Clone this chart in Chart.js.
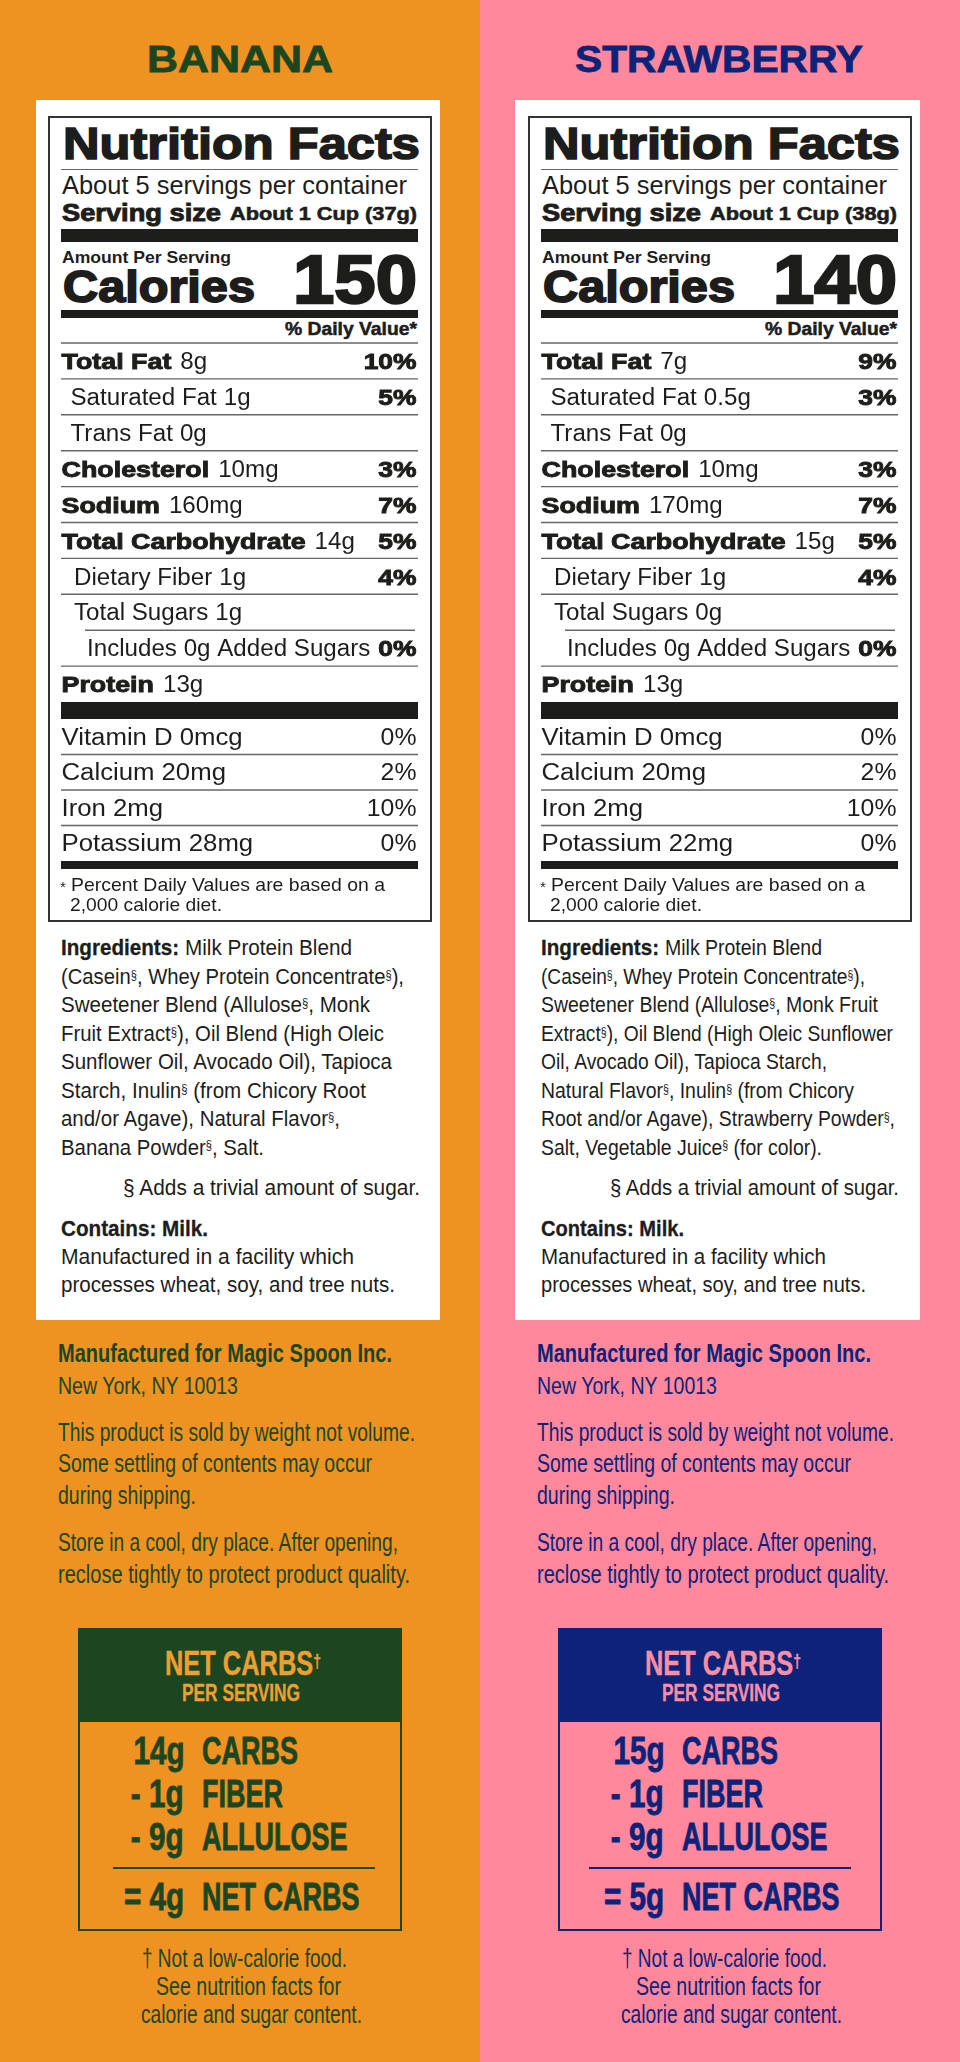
<!DOCTYPE html>
<html>
<head>
<meta charset="utf-8">
<title>Nutrition Facts</title>
<script src="https://cdn.jsdelivr.net/npm/chart.js@4/dist/chart.umd.min.js"></script>
<style>
html, body { margin: 0; padding: 0; background: #fff; }
#page { position: relative; width: 960px; height: 2062px; overflow: hidden; font-family: "Liberation Sans", sans-serif; }
.panel { position: absolute; top: 0; width: 480px; height: 2062px; overflow: hidden; }
.box { position: absolute; box-sizing: border-box; }
.t { position: absolute; line-height: 0; white-space: nowrap; }
.sup { font-size: .55em; position: relative; top: -.42em; }
canvas { position: absolute; }
</style>
</head>
<body>
<div id="page"></div>
<script>
// values, banana first then strawberry
const flavours = ['BANANA', 'STRAWBERRY']
const calories = [150, 140]
const servingGrams = [37, 38]

const rowNames = ['Total Fat', 'Saturated Fat', 'Trans Fat', 'Cholesterol', 'Sodium', 'Total Carbohydrate', 'Dietary Fiber', 'Total Sugars', 'Includes 0g Added Sugars', 'Protein']
const bananaAmounts = ['8g', '1g', '0g', '10mg', '160mg', '14g', '1g', '1g', '', '13g']
const strawberryAmounts = ['7g', '0.5g', '0g', '10mg', '170mg', '15g', '1g', '0g', '', '13g']
const bananaDaily = [10, 5, null, 3, 7, 5, 4, null, 0, null]
const strawberryDaily = [9, 3, null, 3, 7, 5, 4, null, 0, null]

const vitaminNames = ['Vitamin D', 'Calcium', 'Iron', 'Potassium']
const bananaVitaminAmounts = ['0mcg', '20mg', '2mg', '28mg']
const strawberryVitaminAmounts = ['0mcg', '20mg', '2mg', '22mg']
const bananaVitaminDaily = [0, 2, 10, 0]
const strawberryVitaminDaily = [0, 2, 10, 0]

const bananaIngredients = [
  'Milk Protein Blend',
  '(Casein§, Whey Protein Concentrate§),',
  'Sweetener Blend (Allulose§, Monk',
  'Fruit Extract§), Oil Blend (High Oleic',
  'Sunflower Oil, Avocado Oil), Tapioca',
  'Starch, Inulin§ (from Chicory Root',
  'and/or Agave), Natural Flavor§,',
  'Banana Powder§, Salt.'
]
const strawberryIngredients = [
  'Milk Protein Blend',
  '(Casein§, Whey Protein Concentrate§),',
  'Sweetener Blend (Allulose§, Monk Fruit',
  'Extract§), Oil Blend (High Oleic Sunflower',
  'Oil, Avocado Oil), Tapioca Starch,',
  'Natural Flavor§, Inulin§ (from Chicory',
  'Root and/or Agave), Strawberry Powder§,',
  'Salt, Vegetable Juice§ (for color).'
]

const carbAmounts = [['14g', '- 1g', '- 9g', '= 4g'], ['15g', '- 1g', '- 9g', '= 5g']]
const carbNames = ['CARBS', 'FIBER', 'ALLULOSE', 'NET CARBS']

const bgColors = ['#EE9322', '#FF889D']
const inkColors = ['#1C4620', '#0C2379']
const headColors = ['#EE9F33', '#F98FA6']
const labelInk = '#1d1d1b'
const sans = '"Liberation Sans", sans-serif'

// measured width of each ingredient line
const ingredientWidths = [
  [167, 343, 309, 323, 331, 305, 279, 203],
  [157, 324, 337, 352, 286, 313, 354, 281]
]

const page = document.getElementById('page')

function box(parent, x, y, w, h, css) {
  const d = document.createElement('div')
  d.className = 'box'
  d.style.cssText = `left:${x}px;top:${y}px;width:${w}px;height:${h}px;${css}`
  parent.appendChild(d)
  return d
}

// text placed by its baseline. w = stretch to that width, sx = fixed stretch
function put(parent, text, x, base, size, o) {
  o = o || {}
  const d = document.createElement('div')
  d.className = 't'
  d.style.fontFamily = o.font || sans
  d.style.fontSize = size + 'px'
  d.style.fontWeight = o.bold ? 'bold' : 'normal'
  d.style.color = o.color || labelInk
  if (o.stroke) d.style.webkitTextStroke = o.stroke + 'px ' + (o.color || labelInk)
  d.style.top = (base - 0.3465 * size) + 'px'
  text.split(/([§†])/).forEach(part => {
    if ((part === '§' || part === '†') && !o.plainMark) {
      const s = document.createElement('span')
      s.className = 'sup'
      s.textContent = part
      d.appendChild(s)
    } else {
      d.appendChild(document.createTextNode(part))
    }
  })
  parent.appendChild(d)
  const natural = d.getBoundingClientRect().width
  const sx = o.w ? o.w / natural : (o.sx || 1)
  d.style.transform = `scaleX(${sx})`
  if (o.right) {
    d.style.transformOrigin = 'right center'
    d.style.left = (x - natural) + 'px'
  } else {
    d.style.transformOrigin = 'left center'
    d.style.left = x + 'px'
  }
  return d
}

// canvas text run, returns how far it went
function run(ctx, text, x, y, font, sx, stroke) {
  ctx.save()
  ctx.font = font
  ctx.translate(x, y)
  ctx.scale(sx, 1)
  if (stroke) {
    ctx.lineWidth = stroke
    ctx.strokeText(text, 0, 0)
  }
  ctx.fillText(text, 0, 0)
  const width = ctx.measureText(text).width * sx
  ctx.restore()
  return width
}

function rule(ctx, x0, x1, y) {
  ctx.save()
  ctx.strokeStyle = '#666'
  ctx.lineWidth = 1.4
  ctx.beginPath()
  ctx.moveTo(x0, y)
  ctx.lineTo(x1, y)
  ctx.stroke()
  ctx.restore()
}

// draws the rules and row text from the y scale of the chart
const rowPlugin = {
  id: 'rowPlugin',
  afterDraw(chart, args, opts) {
    const ctx = chart.ctx
    const y = chart.scales.y
    const area = chart.chartArea
    const data = chart.data.datasets[0].data
    const step = y.getPixelForValue(1) - y.getPixelForValue(0)
    const rightEdge = area.right - 1.5
    ctx.save()
    ctx.fillStyle = labelInk
    ctx.strokeStyle = labelInk
    chart.data.labels.forEach((name, i) => {
      const mid = y.getPixelForValue(i)
      const base = mid + 8.2
      let x = area.left + 0.5 + (opts.indents[i] || 0)
      if (opts.bold[i]) {
        x += run(ctx, name, x, base, 'bold 22px ' + sans, 1.22, 0.9) + 9
      } else {
        x += run(ctx, name, x, base, '23px ' + sans, opts.plainStretch, 0) + 7
      }
      if (opts.amounts[i]) run(ctx, opts.amounts[i], x, base, '23px ' + sans, opts.plainStretch, 0)

      if (data[i] !== null) {
        const label = data[i] + '%'
        ctx.textAlign = 'right'
        if (opts.boldDaily) run(ctx, label, rightEdge, base, 'bold 22px ' + sans, 1.2, 0.9)
        else run(ctx, label, rightEdge, base, '23px ' + sans, 1.08, 0)
        ctx.textAlign = 'left'
      }

      // rule under the row, the first one also gets a rule on top
      const ruleY = mid + step / 2
      const indented = opts.shortRule === i
      if (i < data.length - 1) rule(ctx, area.left + (indented ? 24 : 0), indented ? area.right - 3 : area.right, ruleY)
      if (i === 0 && opts.topRule) rule(ctx, area.left, area.right, mid - step / 2)
    })
    ctx.restore()
  }
}

function rowChart(parent, top, height, labels, daily, plugOpts) {
  const c = document.createElement('canvas')
  c.width = 381
  c.height = height + 20
  c.style.left = '49px'
  c.style.top = (top - 10) + 'px'
  parent.appendChild(c)
  return new Chart(c, {
    type: 'bar',
    data: {
      labels: labels,
      datasets: [{ data: daily, backgroundColor: 'rgba(0,0,0,0)', borderWidth: 0 }]
    },
    options: {
      indexAxis: 'y',
      responsive: false,
      animation: false,
      layout: { padding: { left: 12, right: 12, top: 10, bottom: 10 } },
      scales: {
        x: { display: false, min: 0, max: 100 },
        y: { display: false }
      },
      plugins: { legend: { display: false }, tooltip: { enabled: false }, rowPlugin: plugOpts }
    },
    plugins: [rowPlugin]
  })
}

flavours.forEach((flavour, p) => {
  const panel = document.createElement('div')
  panel.className = 'panel'
  panel.style.left = (p * 480) + 'px'
  panel.style.background = bgColors[p]
  page.appendChild(panel)
  const ink = inkColors[p]

  put(panel, flavour, p ? 95 : 147, 72.6, 36, { bold: true, color: ink, w: p ? 288 : 186, stroke: 0.8 })

  // white card and label
  box(panel, p ? 35 : 36, 100, p ? 405 : 404, 1220, 'background:#fff')
  box(panel, 48, 116, 384, 806, 'border:2px solid #333')

  put(panel, 'Nutrition Facts', 62.5, 160, 45, { bold: true, w: 357, stroke: 1.6 })
  box(panel, 61, 168.5, 357, 1.2, 'background:#666')
  put(panel, 'About 5 servings per container', 62, 194, 26, { w: 345 })
  put(panel, 'Serving size', 62, 220.5, 23, { bold: true, w: 159, stroke: 0.9 })
  put(panel, `About 1 Cup (${servingGrams[p]}g)`, 230, 220.5, 19, { bold: true, w: 187, stroke: 0.6 })
  box(panel, 61, 228.5, 357, 13.5, 'background:#1d1d1b')
  put(panel, 'Amount Per Serving', 62, 262.7, 16.5, { bold: true, w: 169 })
  put(panel, 'Calories', 63, 302.5, 45, { bold: true, w: 192, stroke: 1.8 })
  put(panel, String(calories[p]), 293, 303, 68, { bold: true, w: 124, stroke: 2.4 })
  box(panel, 61, 309.5, 357, 8, 'background:#1d1d1b')
  put(panel, '% Daily Value*', 285, 335, 18, { bold: true, w: 132, stroke: 0.5 })

  rowChart(panel, 342.5, 359, rowNames, p ? strawberryDaily : bananaDaily, {
    amounts: p ? strawberryAmounts : bananaAmounts,
    bold: [true, false, false, true, true, true, false, false, false, true],
    indents: [0, 9, 9, 0, 0, 0, 12.5, 12.5, 25.5, 0],
    plainStretch: 1.05,
    boldDaily: true,
    shortRule: 7,
    topRule: true
  })
  box(panel, 61, 701.5, 357, 17.5, 'background:#1d1d1b')
  rowChart(panel, 719, 142, vitaminNames, p ? strawberryVitaminDaily : bananaVitaminDaily, {
    amounts: p ? strawberryVitaminAmounts : bananaVitaminAmounts,
    bold: [false, false, false, false],
    indents: [0, 0, 0, 0],
    plainStretch: 1.12,
    boldDaily: false
  })
  box(panel, 61, 861, 357, 8, 'background:#1d1d1b')
  put(panel, '*', 60, 891.7, 15, {})
  put(panel, 'Percent Daily Values are based on a', 71, 891.7, 19, { w: 314 })
  put(panel, '2,000 calorie diet.', 70, 912, 19, { w: 152 })

  // ingredients
  const ingredients = p ? strawberryIngredients : bananaIngredients
  const lineGap = 28.45
  put(panel, 'Ingredients:', 61, 956, 22, { bold: true, w: 118, stroke: 0.3 })
  ingredients.forEach((line, i) => {
    put(panel, line, i === 0 ? 185 : 61, 956 + i * lineGap, 22, { w: ingredientWidths[p][i] })
  })
  put(panel, '§ Adds a trivial amount of sugar.', p ? 130 : 122.7, 1196, 22, { w: p ? 289 : 297, plainMark: true })
  put(panel, 'Contains: Milk.', 61, 1236.7, 22, { bold: true, w: p ? 143 : 147, stroke: 0.3 })
  put(panel, 'Manufactured in a facility which', 61, 1265, 22, { w: p ? 285 : 293 })
  put(panel, 'processes wheat, soy, and tree nuts.', 61, 1293, 22, { w: p ? 325 : 334 })

  // maker text under the card
  const small = { color: ink }
  const makerX = p ? 57 : 58
  put(panel, 'Manufactured for Magic Spoon Inc.', makerX, 1361.7, 25, { bold: true, color: ink, w: 334 })
  put(panel, 'New York, NY 10013', makerX, 1394, 24, { ...small, w: 180 })
  put(panel, 'This product is sold by weight not volume.', makerX, 1440.7, 26.5, { ...small, w: 357 })
  put(panel, 'Some settling of contents may occur', makerX, 1472.5, 26.5, { ...small, w: 314 })
  put(panel, 'during shipping.', makerX, 1504.5, 26.5, { ...small, w: 138 })
  put(panel, 'Store in a cool, dry place. After opening,', makerX, 1550.7, 26.5, { ...small, w: 340 })
  put(panel, 'reclose tightly to protect product quality.', makerX, 1583, 26.5, { ...small, w: 352 })

  // net carbs table
  box(panel, 78, 1628, 324, 303, `border:2.5px solid ${ink}`)
  box(panel, 78, 1628, 324, 94, `background:${ink}`)
  put(panel, 'NET CARBS†', 165, 1675, 35, { bold: true, color: headColors[p], w: 156, stroke: 0.4 })
  put(panel, 'PER SERVING', 182, 1701.7, 24, { bold: true, color: headColors[p], w: 118, stroke: 0.3 })
  const carbBase = [1764, 1807, 1850, 1910]
  carbNames.forEach((name, i) => {
    put(panel, carbAmounts[p][i], 184, carbBase[i], 38, { bold: true, color: ink, right: true, sx: 0.78, stroke: 0.8 })
    put(panel, name, 202, carbBase[i], 38, { bold: true, color: ink, sx: 0.71, stroke: 0.8 })
  })
  box(panel, p ? 109 : 113, 1866.5, 262, 2, `background:${ink}`)
  put(panel, '† Not a low-calorie food.', 142, 1966.7, 25, { ...small, w: 205, plainMark: true })
  put(panel, 'See nutrition facts for', 156, 1995, 25, { ...small, w: 185 })
  put(panel, 'calorie and sugar content.', 141, 2022.7, 25, { ...small, w: 221 })
})
</script>
</body>
</html>
